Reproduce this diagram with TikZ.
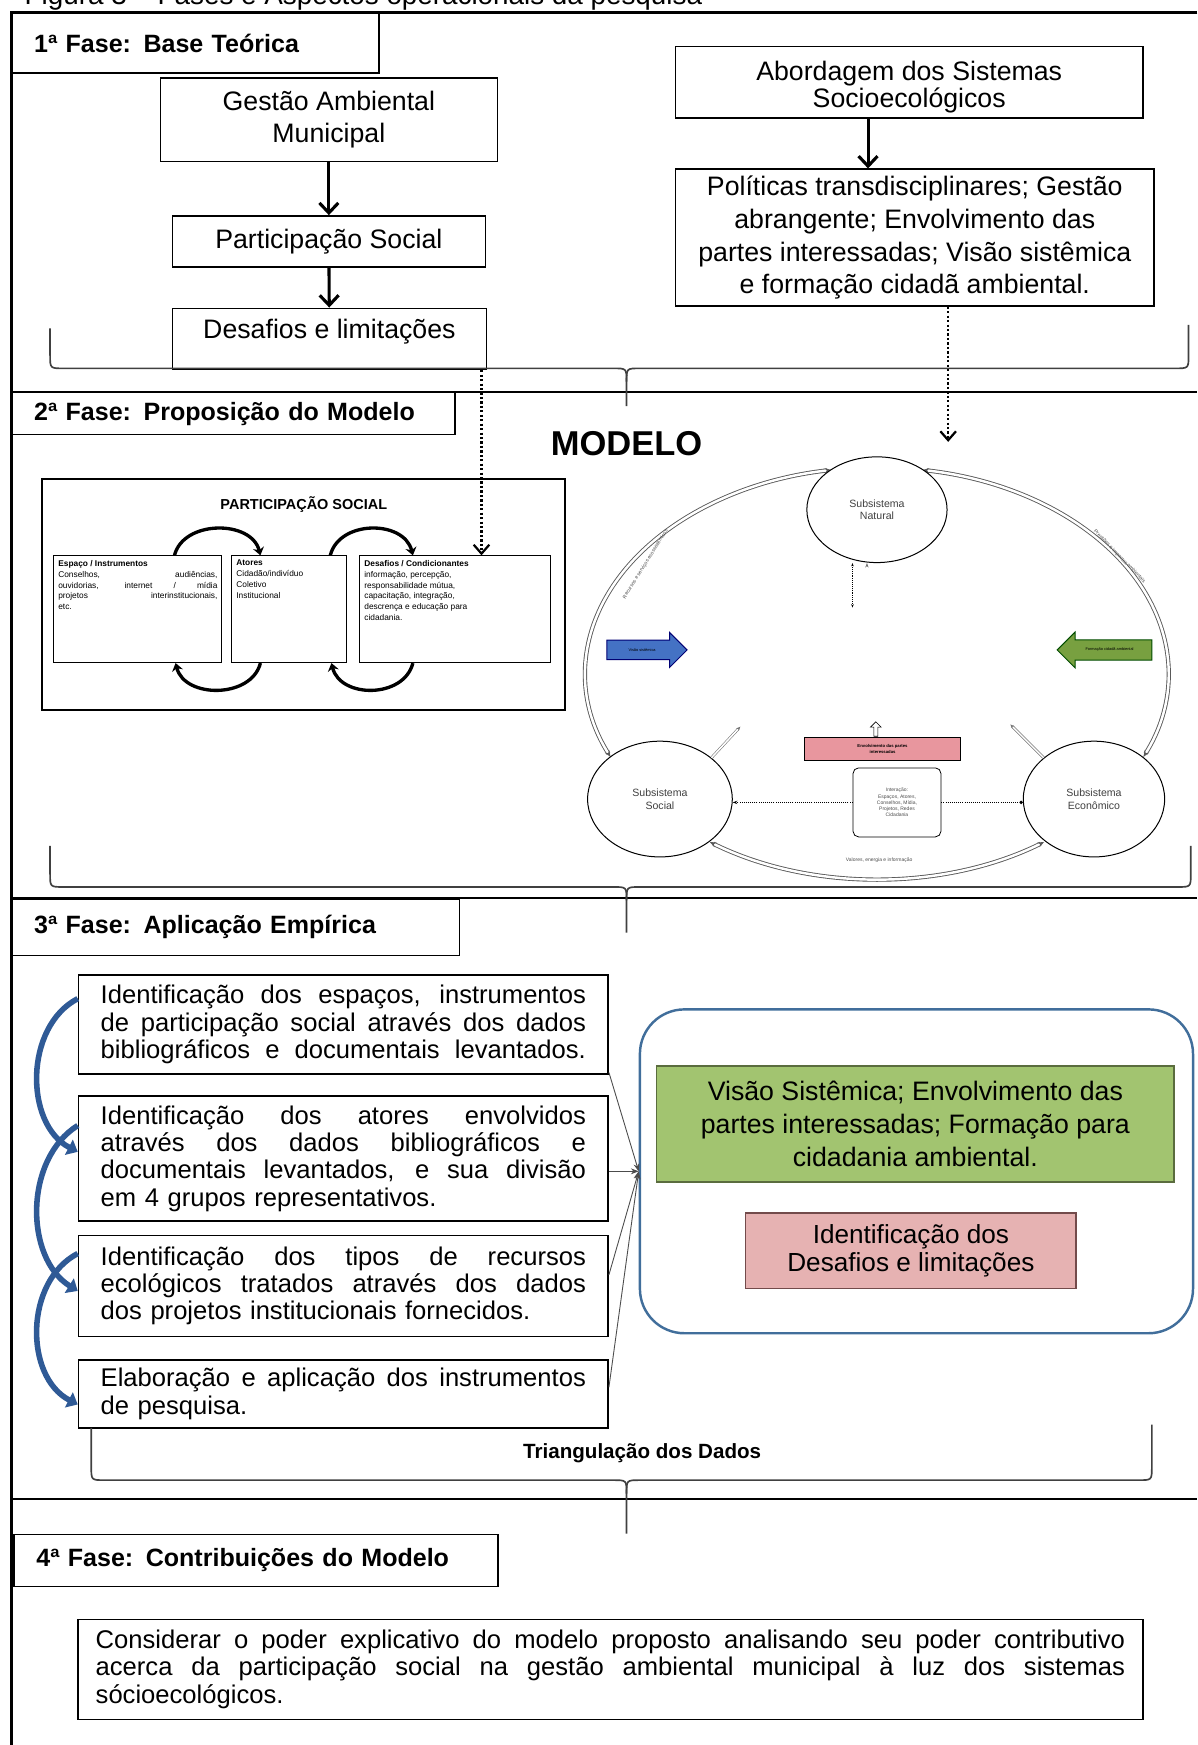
\documentclass[tikz,border=0pt]{standalone}
\usepackage{fontspec}
\setmainfont{Liberation Sans}
\usepackage{tikz}
\usetikzlibrary{shapes.geometric,shapes.arrows,arrows.meta,positioning,calc}
\usepackage{xcolor}
\setlength{\parindent}{0pt}

\definecolor{curveblue}{RGB}{47,90,150}
\definecolor{roundblue}{RGB}{65,110,155}
\definecolor{greenfill}{RGB}{162,196,112}
\definecolor{greenline}{RGB}{90,108,62}
\definecolor{pinkfill}{RGB}{230,178,178}
\definecolor{pinkline}{RGB}{115,75,75}
\definecolor{modblue}{RGB}{68,114,196}
\definecolor{modgreen}{RGB}{120,160,64}
\definecolor{modpink}{RGB}{232,150,158}

% stretched line of text (justified by hand)
\newcommand{\jline}[2][436pt]{{\spaceskip=0pt\relax\xspaceskip=0pt\relax\makebox[#1][s]{#2}}}

\begin{document}
\begin{tikzpicture}[
    x=1pt, y=-1pt,
    phase/.style={draw, line width=1.3pt, anchor=north west, align=left,
        inner xsep=20pt, inner ysep=0pt, font=\bfseries\fontsize{22.5}{26}\selectfont},
    box/.style={draw, line width=1.3pt, align=center, inner sep=0pt,
        font=\fontsize{24}{29.5}\selectfont},
    stepbox/.style={draw, line width=1.3pt, align=left, inner xsep=20pt, inner ysep=0pt,
        text width=436pt, font=\fontsize{23}{24.5}\selectfont},
    smallbox/.style={draw, line width=0.8pt, inner sep=4pt, align=left,
        font=\fontsize{7.5}{9.8}\selectfont},
    subsys/.style={draw, line width=0.9pt, ellipse, fill=white, align=center,
        inner sep=0pt, text=black!75, font=\fontsize{9.5}{11.5}\selectfont},
    blockarrow/.style={single arrow, single arrow head extend=7pt,
        single arrow head indent=0pt, inner xsep=2pt, inner ysep=7pt,
        line width=0.9pt, font=\fontsize{3.5}{4}\selectfont},
    tinytext/.style={font=\fontsize{4.5}{5.5}\selectfont, text=black!70, align=center},
    arrow/.style={-{Straight Barb[length=9pt,width=17pt]}, line width=2.8pt},
    dotarrow/.style={dash pattern=on 2pt off 2pt, line width=2pt,
        -{Straight Barb[length=8pt,width=14pt]}},
    psarc/.style={line width=3pt, -{Stealth[length=7pt,width=10pt]}},
    stepcurve/.style={draw=curveblue, line width=5pt, -{Triangle[length=9pt,width=15pt]}},
    feed/.style={draw=black!70, line width=0.8pt, -{Stealth[length=7pt]}},
    ring/.style={draw=black!65, double=white, double distance=2.2pt, line width=0.8pt,
        {Stealth[length=6pt]}-{Stealth[length=6pt]}},
    thinring/.style={draw=black!55, double=white, double distance=1.4pt, line width=0.5pt,
        -{Stealth[length=4pt]}},
    bracelin/.style={draw=black!75, line width=1.5pt},
    sepline/.style={line width=1.6pt}
]
\useasboundingbox (0,0) rectangle (1076,1568);

% Caption (cut at the top edge)
\node[anchor=base west, inner sep=0pt, font=\fontsize{25}{25}\selectfont] (legenda) at (22,4)
    {Figura 3 -- Fases e Aspectos operacionais da pesquisa};

% Frame and phase separators
\draw[line width=2.6pt] (1076,11) -- (10,11) -- (10,1568);
\draw[sepline] (10,352) -- (1076,352);
\draw[sepline] (10,807) -- (1076,807);
\draw[sepline] (10,1347) -- (1076,1347);

% Phase labels
\node[phase, text width=290pt, minimum height=54pt] (fase1) at (10,11) {1ª Fase: Base Teórica};
\node[phase, text width=358pt, minimum height=38pt] (fase2) at (10,352) {2ª Fase: Proposição do Modelo};
\node[phase, text width=362pt, minimum height=51pt] (fase3) at (10,807) {3ª Fase: Aplicação Empírica};
\node[phase, text width=395pt, minimum height=47pt] (fase4) at (12,1378) {4ª Fase: Contribuições do Modelo};

% 1st phase - left column
\node[box, minimum width=303pt, minimum height=75pt] (gestao) at (295.5,107.5) {Gestão Ambiental\\Municipal};
\node[box, minimum width=281pt, minimum height=46pt] (partsoc) at (295.5,217) {Participação Social};
\node[box, minimum width=282pt, minimum height=55pt, text depth=18pt] (desafios) at (296,304.5) {Desafios e limitações};

% 1st phase - right column
\node[box, minimum width=420pt, minimum height=64pt, text height=51pt, font=\fontsize{24}{24.5}\selectfont] (abordagem) at (817,74)
    {Abordagem dos Sistemas\\Socioecológicos};
\node[box, minimum width=430pt, minimum height=123pt] (politicas) at (822,213.5)
    {Políticas transdisciplinares; Gestão\\abrangente; Envolvimento das\\partes interessadas; Visão sistêmica\\e formação cidadã ambiental.};

\draw[arrow] (gestao) -- (partsoc);
\draw[arrow] (partsoc) -- (desafios);
\draw[arrow] ([xshift=-37pt]abordagem.south) -- ([xshift=-37pt]abordagem.south |- politicas.north);

% Brace under 1st phase
\draw[bracelin] (45,295) -- (45,319) .. controls (45,331) .. (57,331) -- (551,331)
    .. controls (563,331) .. (563,343) -- (563,365);
\draw[bracelin] (563,343) .. controls (563,331) .. (575,331) -- (1056,331)
    .. controls (1068,331) .. (1068,319) -- (1068,292);

% 2nd phase - participation picture
\node[draw, line width=1.8pt, minimum width=470pt, minimum height=208pt] (psbox) at (273,534) {};
\node[font=\bfseries\fontsize{13}{15}\selectfont] (pstitle) at (273,453) {PARTICIPAÇÃO SOCIAL};
\node[smallbox, anchor=north west] (psesp) at (48,499)
    {\parbox[c][88pt][t]{143pt}{\textbf{Espaço / Instrumentos}\\
    \jline[143pt]{Conselhos, audiências,}\\\jline[143pt]{ouvidorias, internet / mídia}\\
    \jline[143pt]{projetos interinstitucionais,}\\etc.}};
\node[smallbox, anchor=north west] (psato) at (208,499)
    {\parbox[c][88pt][t]{95pt}{\textbf{Atores}\\Cidadão/indivíduo\\Coletivo\\Institucional}};
\node[smallbox, anchor=north west] (psdes) at (323,499)
    {\parbox[c][88pt][t]{163pt}{\textbf{Desafios / Condicionantes}\\informação, percepção,\\
    responsabilidade mútua,\\capacitação, integração,\\descrença e educação para\\cidadania.}};

\draw[psarc] ([xshift=-43pt]psesp.north east) .. controls +(8,-32) and +(-8,-32) .. ([xshift=26pt]psato.north west);
\draw[psarc] ([xshift=-15pt]psato.north east) .. controls +(8,-32) and +(-8,-32) .. ([xshift=48pt]psdes.north west);
\draw[psarc] ([xshift=26pt]psato.south west) .. controls +(-8,32) and +(8,32) .. ([xshift=-42pt]psesp.south east);
\draw[psarc] ([xshift=48pt]psdes.south west) .. controls +(-8,32) and +(8,32) .. ([xshift=-14pt]psato.south east);

\node[font=\bfseries\fontsize{31}{31}\selectfont] (modelo) at (563,399) {MODELO};

% 2nd phase - model (ring of subsystems)
\coordinate (ringc) at (788,605);
\draw[ring] (ringc) ++(156:262 and 185) arc[start angle=156, end angle=261, x radius=262, y radius=185];
\draw[ring] (ringc) ++(279:262 and 185) arc[start angle=279, end angle=384, x radius=262, y radius=185];
\draw[ring] (ringc) ++(55:262 and 185) arc[start angle=55, end angle=125, x radius=262, y radius=185];

\node[subsys, minimum width=126pt, minimum height=95pt] (natural) at (788,458) {Subsistema\\Natural};
\node[subsys, minimum width=130pt, minimum height=104pt] (social) at (593,718) {Subsistema\\Social};
\node[subsys, minimum width=127pt, minimum height=104pt] (economico) at (983,718) {Subsistema\\Econômico};

\node[tinytext, rotate=58] (fluxo1) at (580,507) {Recursos e serviços ecossistêmicos};
\node[tinytext, rotate=-46] (fluxo2) at (1006,500) {Pressões e impactos ambientais};

\node[blockarrow, fill=modblue, draw=blue!45!black, minimum height=72pt] (setaazul) at (577,584) {Visão sistêmica};
\node[blockarrow, fill=modgreen, draw=green!30!black, shape border rotate=180, minimum height=85pt] (setaverde) at (997,584)
    {Formação cidadã ambiental};

\node[draw, line width=0.7pt, fill=modpink, minimum width=140pt, minimum height=21pt, align=center,
    font=\fontsize{3.8}{4.6}\selectfont] (envolv) at (793,673) {\textbf{Envolvimento das partes}\\\textbf{interessadas}};
\node[single arrow, draw, fill=white, shape border rotate=90, minimum height=13pt, inner sep=1.5pt,
    single arrow head extend=3pt, line width=0.6pt] (setinha) at (787,656) {};
\node[draw, line width=0.7pt, rounded corners=5pt, minimum width=79pt, minimum height=62pt,
    tinytext] (interacao) at (806,721) {Interação:\\Espaços, Atores,\\Conselhos, Mídia,\\Projetos, Redes\\Cidadania};
\node[tinytext] (valores) at (790,773) {Valores, energia e informação};

\draw[densely dotted, line width=0.9pt, -{Stealth[length=4pt]}] (interacao.west) -- (interacao.west -| social.east);
\draw[densely dotted, line width=0.9pt, -{Circle[length=3pt]}] (interacao.east) -- (interacao.east -| economico.west);
\draw[densely dotted, line width=0.7pt, {Stealth[length=3pt]}-{Stealth[length=3pt]}]
    ([xshift=-22pt]natural.south) -- ([xshift=-22pt,yshift=-40pt]natural.south);
\draw[thinring] ([xshift=-9pt,yshift=-40pt]natural.south) -- ([xshift=-9pt]natural.south);
\draw[thinring] (social.north east) -- ([shift={(26pt,28pt)}]social.north east);
\draw[thinring] (economico.north west) -- ([shift={(-30pt,30pt)}]economico.north west);

% Dotted links from 1st phase
\draw[dotarrow] ([xshift=-5pt]desafios.south east) -- ([xshift=-5pt]desafios.south east |- psdes.north);
\draw[dotarrow] ([xshift=30pt]politicas.south) -- ([xshift=30pt,yshift=13pt]politicas.south |- natural.north);

% Brace under 2nd phase
\draw[bracelin] (45,760) -- (45,785) .. controls (45,797) .. (57,797) -- (551,797)
    .. controls (563,797) .. (563,809) -- (563,838);
\draw[bracelin] (563,809) .. controls (563,797) .. (575,797) -- (1058,797)
    .. controls (1070,797) .. (1070,785) -- (1070,760);

% 3rd phase - steps
\node[stepbox, minimum height=89pt] (passo1) at (308.5,920.5)
    {\jline{Identificação dos espaços, instrumentos}\\
     \jline{de participação social através dos dados}\\
     \jline{bibliográficos e documentais levantados.}};
\node[stepbox, minimum height=112pt] (passo2) at (308.5,1041)
    {\jline{Identificação dos atores envolvidos}\\
     \jline{através dos dados bibliográficos e}\\
     \jline{documentais levantados, e sua divisão}\\
     em 4 grupos representativos.};
\node[stepbox, minimum height=91pt] (passo3) at (308.5,1155.5)
    {\jline{Identificação dos tipos de recursos}\\
     \jline{ecológicos tratados através dos dados}\\
     dos projetos institucionais fornecidos.};
\node[stepbox, minimum height=61pt] (passo4) at (308.5,1252.5)
    {\jline{Elaboração e aplicação dos instrumentos}\\
     de pesquisa.};

% 3rd phase - result
\node[draw=roundblue, line width=2.2pt, rounded corners=40pt, minimum width=497pt, minimum height=291pt] (resultado) at (823.5,1052.5) {};
\node[box, draw=greenline, fill=greenfill, minimum width=465pt, minimum height=104pt] (visao) at (822.5,1010)
    {Visão Sistêmica; Envolvimento das\\partes interessadas; Formação para\\cidadania ambiental.};
\node[box, draw=pinkline, fill=pinkfill, minimum width=297pt, minimum height=68pt, font=\fontsize{23.5}{25}\selectfont] (limites) at (818.5,1124)
    {Identificação dos\\Desafios e limitações};

% Links steps -> result
\draw[feed] ([yshift=2pt]passo1.south east) -- (resultado.west);
\draw[feed] (passo2.east |- resultado.west) -- (resultado.west);
\draw[feed] ([yshift=10pt]passo3.east) -- (resultado.west);
\draw[feed] ([yshift=6pt]passo4.east) -- (resultado.west);

% Sequence curves
\draw[stepcurve] ([yshift=-22pt]passo1.north west) .. controls +(-48,25) and +(-48,-25) .. ([yshift=6pt]passo2.west);
\draw[stepcurve] ([yshift=-27pt]passo2.north west) .. controls +(-48,30) and +(-48,-30) .. ([yshift=-4.5pt]passo3.west);
\draw[stepcurve] ([yshift=-17pt]passo3.north west) .. controls +(-48,25) and +(-48,-25) .. ([yshift=-9.5pt]passo4.west);

% Brace under 3rd phase
\node[font=\bfseries\fontsize{18.5}{22}\selectfont] (triang) at (577,1306) {Triangulação dos Dados};
\draw[bracelin] (82,1283) -- (82,1318) .. controls (82,1330) .. (94,1330) -- (551,1330)
    .. controls (563,1330) .. (563,1342) -- (563,1378);
\draw[bracelin] (563,1342) .. controls (563,1330) .. (575,1330) -- (1023,1330)
    .. controls (1035,1330) .. (1035,1318) -- (1035,1280);

% 4th phase
\node[stepbox, text width=925pt, inner xsep=16pt, minimum height=90pt] (contrib) at (548.5,1500)
    {\jline[925pt]{Considerar o poder explicativo do modelo proposto analisando seu poder contributivo}\\
     \jline[925pt]{acerca da participação social na gestão ambiental municipal à luz dos sistemas}\\
     sócioecológicos.};

\end{tikzpicture}
\end{document}
